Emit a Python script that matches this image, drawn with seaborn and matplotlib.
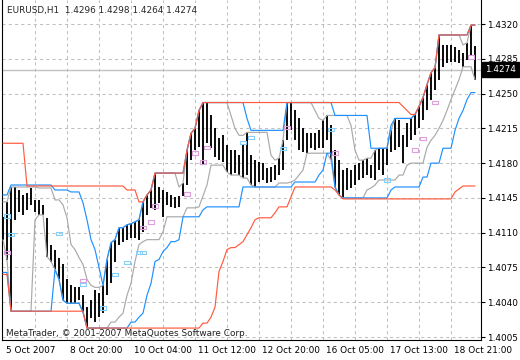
import numpy as np
import matplotlib
matplotlib.use("Agg")
import matplotlib.pyplot as plt
import matplotlib.transforms as mtransforms
import seaborn as sns

# ---- data (EURUSD H1, one value per bar) ----
highs = [1.4126, 1.4141, 1.4156, 1.4156, 1.4153, 1.4148, 1.4150, 1.4155, 1.4143, 1.4143,
         1.4138, 1.4125, 1.4098, 1.4093, 1.4085, 1.4078, 1.4063, 1.4057, 1.4055, 1.4055,
         1.4047, 1.4035, 1.4042, 1.4052, 1.4049, 1.4057, 1.4083, 1.4100, 1.4103, 1.4115,
         1.4115, 1.4118, 1.4119, 1.4121, 1.4123, 1.4141, 1.4148, 1.4153, 1.4170, 1.4156,
         1.4153, 1.4151, 1.4148, 1.4146, 1.4147, 1.4160, 1.4193, 1.4210, 1.4215, 1.4233,
         1.4241, 1.4241, 1.4228, 1.4215, 1.4205, 1.4208, 1.4198, 1.4193, 1.4193, 1.4188,
         1.4198, 1.4211, 1.4188, 1.4183, 1.4181, 1.4180, 1.4175, 1.4176, 1.4178, 1.4185,
         1.4203, 1.4241, 1.4241, 1.4233, 1.4225, 1.4215, 1.4210, 1.4210, 1.4210, 1.4213,
         1.4223, 1.4228, 1.4218, 1.4193, 1.4183, 1.4173, 1.4175, 1.4173, 1.4178, 1.4180,
         1.4183, 1.4185, 1.4178, 1.4193, 1.4195, 1.4195, 1.4195, 1.4213, 1.4225, 1.4223,
         1.4208, 1.4220, 1.4225, 1.4229, 1.4237, 1.4246, 1.4259, 1.4271, 1.4276, 1.4309,
         1.4299, 1.4299, 1.4299, 1.4297, 1.4294, 1.4291, 1.4301, 1.4319, 1.4298]
lows = [1.4103, 1.4083, 1.4031, 1.4123, 1.4131, 1.4128, 1.4133, 1.4138, 1.4131, 1.4128,
        1.4128, 1.4086, 1.4081, 1.4073, 1.4063, 1.4042, 1.4039, 1.4039, 1.4039, 1.4042,
        1.4030, 1.4014, 1.4024, 1.4020, 1.4025, 1.4029, 1.4047, 1.4059, 1.4081, 1.4098,
        1.4101, 1.4103, 1.4105, 1.4105, 1.4103, 1.4111, 1.4128, 1.4135, 1.4133, 1.4140,
        1.4126, 1.4138, 1.4136, 1.4135, 1.4136, 1.4147, 1.4158, 1.4183, 1.4193, 1.4196,
        1.4178, 1.4200, 1.4195, 1.4186, 1.4183, 1.4181, 1.4171, 1.4168, 1.4170, 1.4168,
        1.4165, 1.4168, 1.4158, 1.4156, 1.4161, 1.4163, 1.4160, 1.4161, 1.4163, 1.4168,
        1.4173, 1.4203, 1.4213, 1.4203, 1.4193, 1.4191, 1.4190, 1.4195, 1.4193, 1.4195,
        1.4195, 1.4203, 1.4183, 1.4156, 1.4148, 1.4145, 1.4153, 1.4155, 1.4158, 1.4163,
        1.4165, 1.4168, 1.4165, 1.4163, 1.4173, 1.4168, 1.4178, 1.4191, 1.4193, 1.4196,
        1.4180, 1.4196, 1.4203, 1.4208, 1.4215, 1.4223, 1.4233, 1.4244, 1.4254, 1.4264,
        1.4277, 1.4281, 1.4282, 1.4282, 1.4281, 1.4277, 1.4284, 1.4289, 1.4264]

# channel lines: bar index where the level changes, and the level
red_up_start = [0, 6, 31, 34, 36, 37, 38, 46, 47, 48, 49, 50, 100, 101, 102, 104, 105,
                106, 107, 108, 109, 117]
red_up_val = [1.4200, 1.4157, 1.4153, 1.4141, 1.4148, 1.4153, 1.4170, 1.4193, 1.4210,
              1.4215, 1.4233, 1.4241, 1.4237, 1.4233, 1.4229, 1.4237, 1.4246, 1.4259,
              1.4271, 1.4276, 1.4309, 1.4319]
red_dn_start = [0, 2, 21, 50, 52, 53, 54, 55, 56, 57, 59, 60, 61, 62, 63, 64, 68, 69, 72,
                73, 83, 84, 85, 113, 114, 115]
red_dn_val = [1.4068, 1.4031, 1.4014, 1.4019, 1.4025, 1.4035, 1.4071, 1.4081, 1.4093,
              1.4095, 1.4098, 1.4101, 1.4108, 1.4115, 1.4123, 1.4125, 1.4130, 1.4136,
              1.4146, 1.4156, 1.4153, 1.4148, 1.4144, 1.4151, 1.4154, 1.4157]
blue_up_start = [0, 2, 13, 17, 20, 21, 22, 23, 24, 25, 26, 27, 28, 29, 31, 32, 33, 34, 35,
                 36, 37, 38, 46, 47, 48, 49, 50, 61, 62, 71, 83, 92, 97, 98, 103, 104, 105,
                 106, 107, 108, 109, 117]
blue_up_val = [1.4148, 1.4158, 1.4153, 1.4151, 1.4140, 1.4123, 1.4103, 1.4093, 1.4075,
               1.4057, 1.4083, 1.4100, 1.4103, 1.4115, 1.4118, 1.4119, 1.4121, 1.4123,
               1.4141, 1.4148, 1.4153, 1.4170, 1.4193, 1.4210, 1.4215, 1.4233, 1.4241,
               1.4225, 1.4213, 1.4241, 1.4228, 1.4195, 1.4218, 1.4225, 1.4229, 1.4237,
               1.4246, 1.4259, 1.4271, 1.4276, 1.4309, 1.4319]
blue_dn_start = [0, 2, 13, 14, 15, 16, 20, 21, 32, 34, 35, 36, 37, 38, 39, 40, 41, 42, 44,
                 45, 50, 51, 60, 73, 79, 80, 81, 83, 84, 85, 97, 98, 105, 107, 110, 113,
                 114, 115, 116, 117]
blue_dn_val = [1.4070, 1.4031, 1.4073, 1.4063, 1.4042, 1.4039, 1.4030, 1.4014, 1.4020,
               1.4025, 1.4029, 1.4047, 1.4059, 1.4081, 1.4083, 1.4091, 1.4095, 1.4101,
               1.4103, 1.4126, 1.4133, 1.4136, 1.4156, 1.4161, 1.4168, 1.4173, 1.4190,
               1.4156, 1.4148, 1.4145, 1.4153, 1.4156, 1.4166, 1.4180, 1.4195, 1.4213,
               1.4225, 1.4233, 1.4244, 1.4251]
gray_up_start = [0, 2, 9, 13, 15, 16, 17, 18, 19, 20, 21, 22, 23, 25, 26, 27, 28, 29, 31,
                 32, 33, 34, 35, 36, 37, 38, 44, 45, 46, 47, 48, 49, 50, 57, 58, 59, 61, 67,
                 68, 69, 70, 71, 78, 79, 80, 81, 87, 88, 89, 91, 93, 94, 97, 98, 103, 104,
                 105, 106, 107, 108, 109, 115, 116, 117]
gray_up_val = [1.4141, 1.4156, 1.4155, 1.4143, 1.4138, 1.4125, 1.4098, 1.4093, 1.4085,
               1.4078, 1.4063, 1.4057, 1.4055, 1.4057, 1.4083, 1.4100, 1.4103, 1.4115,
               1.4118, 1.4119, 1.4121, 1.4123, 1.4141, 1.4148, 1.4153, 1.4170, 1.4156,
               1.4160, 1.4193, 1.4210, 1.4215, 1.4233, 1.4241, 1.4228, 1.4215, 1.4208,
               1.4211, 1.4188, 1.4183, 1.4185, 1.4203, 1.4241, 1.4233, 1.4225, 1.4223,
               1.4228, 1.4218, 1.4193, 1.4183, 1.4185, 1.4193, 1.4195, 1.4213, 1.4225,
               1.4229, 1.4237, 1.4246, 1.4259, 1.4271, 1.4276, 1.4309, 1.4299, 1.4301,
               1.4319]
gray_dn_start = [0, 1, 2, 8, 9, 11, 12, 13, 14, 15, 16, 20, 21, 27, 29, 30, 31, 32, 33,
                 34, 35, 36, 40, 41, 46, 49, 50, 51, 52, 56, 57, 60, 62, 63, 69, 72, 73,
                 74, 75, 76, 82, 83, 84, 85, 91, 92, 93, 94, 99, 101, 102, 106, 107, 108,
                 109, 110, 111, 112, 113, 114, 115, 118]
gray_dn_val = [1.4103, 1.4083, 1.4031, 1.4123, 1.4128, 1.4086, 1.4081, 1.4073, 1.4063,
               1.4042, 1.4039, 1.4030, 1.4014, 1.4020, 1.4025, 1.4029, 1.4047, 1.4059,
               1.4081, 1.4098, 1.4101, 1.4103, 1.4111, 1.4126, 1.4135, 1.4136, 1.4147,
               1.4158, 1.4178, 1.4171, 1.4168, 1.4165, 1.4158, 1.4156, 1.4160, 1.4161,
               1.4163, 1.4168, 1.4173, 1.4190, 1.4183, 1.4156, 1.4148, 1.4145, 1.4153,
               1.4155, 1.4158, 1.4163, 1.4168, 1.4178, 1.4180, 1.4196, 1.4203, 1.4208,
               1.4215, 1.4223, 1.4233, 1.4244, 1.4254, 1.4264, 1.4277, 1.4264]

# signal marks
pink_idx = [1, 20, 35, 37, 38, 46, 48, 50, 51, 71, 83, 103, 105, 108, 117]
pink_val = [1.4090, 1.4062, 1.4115, 1.4121, 1.4137, 1.4149, 1.4190, 1.4181, 1.4196,
            1.4216, 1.4190, 1.4193, 1.4205, 1.4241, 1.4287]
cyan_idx = [1, 2, 14, 20, 25, 28, 31, 34, 35, 60, 62, 70, 82, 96]
cyan_val = [1.4127, 1.4108, 1.4109, 1.4058, 1.4034, 1.4068, 1.4080, 1.4090, 1.4090,
            1.4201, 1.4206, 1.4195, 1.4214, 1.4163]

last_price = 1.4274
title = "EURUSD,H1  1.4296 1.4298 1.4264 1.4274"
copyright = "MetaTrader, \u00a9 2001-2007 MetaQuotes Software Corp."
yticks = [1.4005, 1.4040, 1.4075, 1.4110, 1.4145, 1.4180, 1.4215, 1.4250, 1.4285, 1.4320]
xtick_pos = [0, 16, 32, 48, 64, 80, 96, 112]
xtick_lab = ["5 Oct 2007", "8 Oct 20:00", "10 Oct 04:00", "11 Oct 12:00",
             "12 Oct 20:00", "16 Oct 05:00", "17 Oct 13:00", "18 Oct 21:00"]

N = len(highs)
idx = np.arange(N)


def steps(starts, vals):
    lens = np.diff(list(starts) + [N])
    return np.repeat(vals, lens)


sns.set_style("white")
plt.rcParams['font.family'] = ['DejaVu Sans']

fig = plt.figure(figsize=(5.2, 3.6), dpi=100)
ax = fig.add_axes([2 / 520, 20 / 360, 479 / 520, 340 / 360])

# grid
for y in yticks:
    ax.axhline(y, color="#c0c0c0", lw=0.75, ls=(0, (3, 3)), zorder=0)
for x in range(8, N, 8):
    ax.axvline(x, color="#c0c0c0", lw=0.75, ls=(0, (3, 3)), zorder=0)

ax.axhline(last_price, color="#c0c0c0", lw=1.0, zorder=1)

# price bars
ax.vlines(idx, lows, highs, color="black", lw=1.35, zorder=2)

lines = [(gray_up_start, gray_up_val, "#a9a9a9"), (gray_dn_start, gray_dn_val, "#a9a9a9"),
         (blue_up_start, blue_up_val, "#1e90ff"), (blue_dn_start, blue_dn_val, "#1e90ff"),
         (red_up_start, red_up_val, "#ff5a3c"), (red_dn_start, red_dn_val, "#ff5a3c")]
for st, vals, col in lines:
    sns.lineplot(x=idx, y=steps(st, vals), color=col, lw=0.85, ax=ax, zorder=3)

rect = [(-1.6, -1.0), (1.6, -1.0), (1.6, 1.0), (-1.6, 1.0), (-1.6, -1.0)]
sns.scatterplot(x=pink_idx, y=pink_val, marker=rect, s=16, facecolor="none",
                edgecolor="#dda0dd", linewidth=0.8, ax=ax, zorder=4)
sns.scatterplot(x=cyan_idx, y=cyan_val, marker=rect, s=16, facecolor="none",
                edgecolor="#87cefa", linewidth=0.8, ax=ax, zorder=4)

ax.set_xlim(-0.25, 119.5)
ax.set_ylim(1.40020, 1.43442)
ax.set_xlabel("")
ax.set_ylabel("")

ax.yaxis.tick_right()
ax.set_yticks(yticks)
ax.set_yticklabels([f"{v:.4f}" for v in yticks])
ax.set_xticks(xtick_pos)
ax.set_xticklabels(xtick_lab, ha="left")
ax.tick_params(axis="both", direction="out", length=3, width=0.8, color="black",
               labelsize=6.4, labelcolor="black", pad=1.5)
offset = mtransforms.ScaledTranslation(2 / 72, 0, fig.dpi_scale_trans)
for lab in ax.get_xticklabels():
    lab.set_transform(lab.get_transform() + offset)

for side in ["left", "bottom", "right"]:
    ax.spines[side].set_visible(True)
    ax.spines[side].set_color("black")
    ax.spines[side].set_linewidth(0.8)
ax.spines["top"].set_visible(False)

trans = mtransforms.blended_transform_factory(ax.transAxes, ax.transData)
ax.text(1.0 + 4 / 479, last_price, f"{last_price:.4f}", transform=trans, color="white",
        fontsize=6.4, va="center", ha="left",
        bbox=dict(boxstyle="square,pad=0.35", facecolor="black", edgecolor="black"))

fig.text(7 / 520, 1 - 11 / 360, title, fontsize=6.4, va="center", ha="left")
fig.text(6 / 520, 1 - 333 / 360, copyright, fontsize=6.4, va="center", ha="left",
         color="#202020")

fig.savefig("out.png", dpi=100)
